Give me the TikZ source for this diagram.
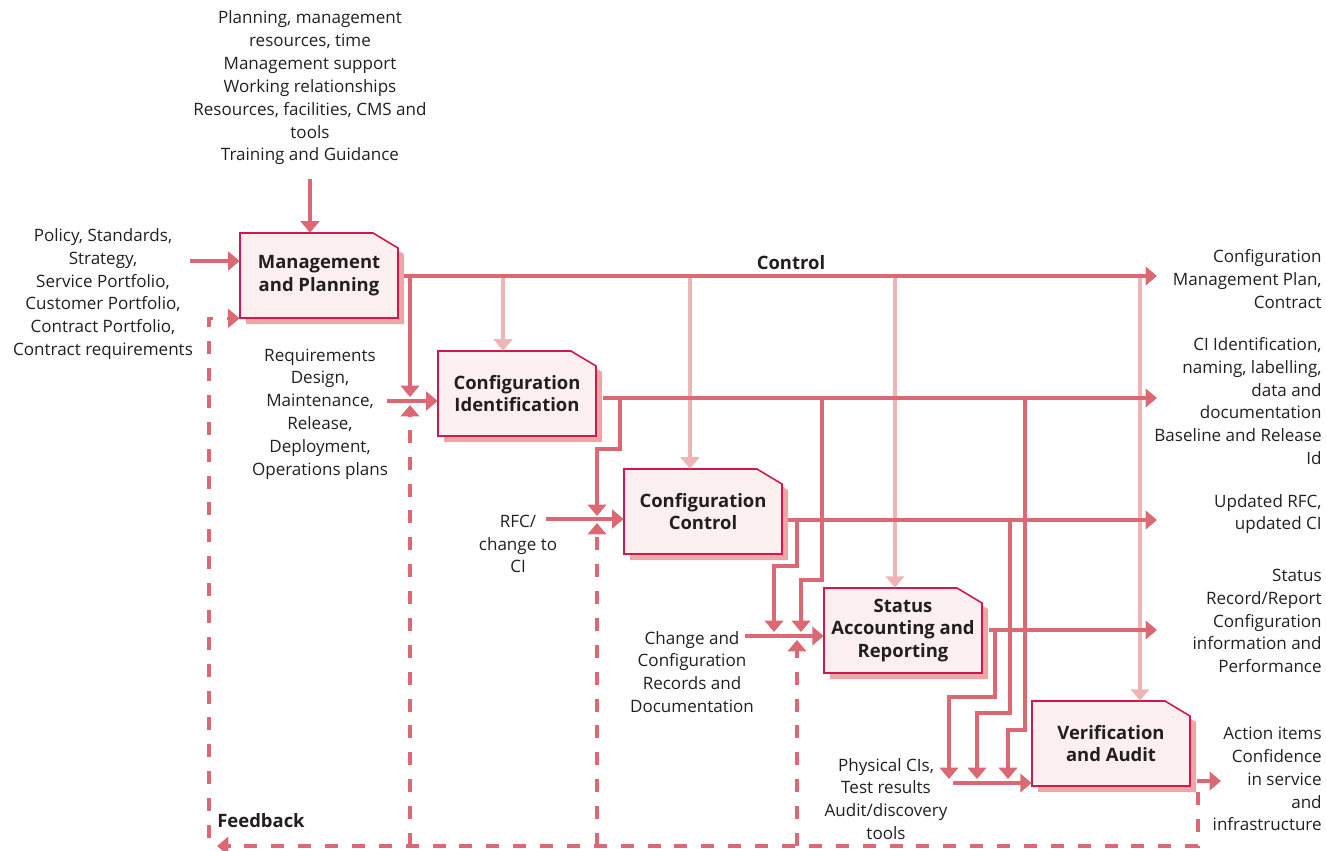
\documentclass[tikz,border=0pt]{standalone}
\usepackage{fontspec}
\setmainfont{Open Sans}
\usetikzlibrary{arrows.meta}
\definecolor{flowred}{RGB}{219,104,114}
\definecolor{ctrlpink}{RGB}{240,180,180}
\definecolor{boxedge}{RGB}{208,24,78}
\definecolor{boxfill}{RGB}{251,239,239}
\definecolor{boxshade}{RGB}{236,166,166}
\definecolor{inkgray}{RGB}{35,31,32}
% box with folded corner: name, left, top, label
\newcommand\cmbox[4]{%
  \fill[boxshade] ({#2+6},{#3+6}) -- ({#2+139},{#3+6}) -- ({#2+164},{#3+21})
    -- ({#2+164},{#3+91}) -- ({#2+6},{#3+91}) -- cycle;
  \filldraw[draw=boxedge,fill=boxfill,line width=0.9pt] (#2,#3) -- ({#2+133},#3)
    -- ({#2+158},{#3+15}) -- ({#2+158},{#3+85}) -- (#2,{#3+85}) -- cycle;
  \node[boxlabel] (#1) at ({#2+79},{#3+42.5}) {#4};}
\begin{document}
\begin{tikzpicture}[x=0.02cm,y=-0.02cm,
  font=\fontsize{9.7}{13}\selectfont, text=inkgray,
  flow/.style={draw=flowred,line width=2.1pt},
  flowarrow/.style={flow,-{Triangle[length=6.5pt,width=10.5pt]}},
  ctrlarrow/.style={draw=ctrlpink,line width=2.1pt,-{Triangle[length=6.5pt,width=10.5pt]}},
  fbarrow/.style={flowarrow,dash pattern=on 7.4pt off 7.9pt},
  note/.style={align=center,inner sep=0pt},
  outnote/.style={align=right,anchor=east,inner sep=0pt},
  heading/.style={font=\fontsize{10.5}{13}\selectfont\bfseries,inner sep=0pt},
  boxlabel/.style={heading,align=center,minimum width=3.16cm,minimum height=1.7cm}]
\useasboundingbox (0,0) rectangle (1326,850);

% the five activities
\cmbox{mp}{240}{233}{Management\\and Planning}
\cmbox{ci}{438}{351}{Configuration\\Identification}
\cmbox{cc}{624}{469}{Configuration\\Control}
\cmbox{sar}{824}{588}{Status\\Accounting and\\Reporting}
\cmbox{va}{1032}{701}{Verification\\and Audit}

% inputs
\node[note] (needs) at (310,88) {Planning, management\\resources, time\\Management support\\Working relationships\\Resources, facilities, CMS and\\tools\\Training and Guidance};
\node[note] (policy) at (103,294) {Policy, Standards,\\Strategy,\\Service Portfolio,\\Customer Portfolio,\\Contract Portfolio,\\Contract requirements};
\node[note] (req) at (320,414) {Requirements\\Design,\\Maintenance,\\Release,\\Deployment,\\Operations plans};
\node[note] (rfc) at (518,544) {RFC/\\change to\\CI};
\node[note] (chg) at (692,672) {Change and\\Configuration\\Records and\\Documentation};
\node[note] (phys) at (886,799) {Physical CIs,\\Test results\\Audit/discovery\\tools};

% outputs
\node[outnote] (cmp) at (1322,279) {Configuration\\Management Plan,\\Contract};
\node[outnote] (ciid) at (1322,401) {CI Identification,\\naming, labelling,\\data and\\documentation\\Baseline and Release\\Id};
\node[outnote] (upd) at (1322,514) {Updated RFC,\\updated CI};
\node[outnote] (stat) at (1322,621) {Status\\Record/Report\\Configuration\\information and\\Performance};
\node[outnote] (act) at (1322,779) {Action items\\Confidence\\in service\\and\\infrastructure};

\node[heading] (ctl) at (791,263) {Control};
\node[heading] (fb) at (261,821) {Feedback};

\coordinate (outx) at (1157,0);
\coordinate (mpo) at (404,276);
\coordinate (cio) at (603,398);
\coordinate (cco) at (788,520);
\coordinate (saro) at (989,630);
\coordinate (vao) at (1197,781);
\coordinate (polin) at (190,261);
\coordinate (reqin) at (387,401);
\coordinate (rfcin) at (546,519);
\coordinate (chgin) at (745,636);
\coordinate (physin) at (953,783);
\coordinate (fbstart) at (1198,792);
\coordinate (fbend) at (217,846);
\coordinate (fbup) at (209,838);

% control to every activity
\foreach \bx/\tgt in {503/ci,690/cc,895/sar,1140/va}
  \draw[ctrlarrow] (\bx,276) -- (\tgt.north -| \bx,0);

% main flows
\draw[flowarrow] ([yshift=-8pt]needs.south) -- (needs.south |- mp.north);
\draw[flowarrow] (polin) -- (polin -| mp.west);
\draw[flowarrow] (mpo) -- (mpo -| outx);
\draw[flowarrow] (cio) -- (cio -| outx);
\draw[flowarrow] (cco) -- (cco -| outx);
\draw[flowarrow] (saro) -- (saro -| outx);
\draw[flowarrow] (vao) -- (1221,781);
\draw[flowarrow] (reqin) -- (reqin -| ci.west);
\draw[flowarrow] (rfcin) -- (rfcin -| cc.west);
\draw[flowarrow] (chgin) -- (chgin -| sar.west);
\draw[flowarrow] (physin) -- (physin -| va.west);

% branches
\draw[flowarrow] (410,276) -- (410,397);
\draw[flowarrow] (620,398) |- (597,449) -- (597,516);
\draw[flowarrow] (822,398) |- (801,580) -- (801,632);
\draw[flowarrow] (1025,398) |- (1008,730) -- (1008,779);
\draw[flowarrow] (797,520) |- (774,566) -- (774,632);
\draw[flowarrow] (1010,520) |- (977,713) -- (977,779);
\draw[flowarrow] (995,630) |- (949,697) -- (949,779);

% feedback
\draw[fbarrow] (fbstart) |- (fbend);
\draw[fbarrow] (fbup) |- (mp.south west);
\foreach \fx/\fy in {410/405,597/523,797/640}
  \draw[fbarrow] (\fx,846) -- (\fx,\fy);
\end{tikzpicture}
\end{document}
